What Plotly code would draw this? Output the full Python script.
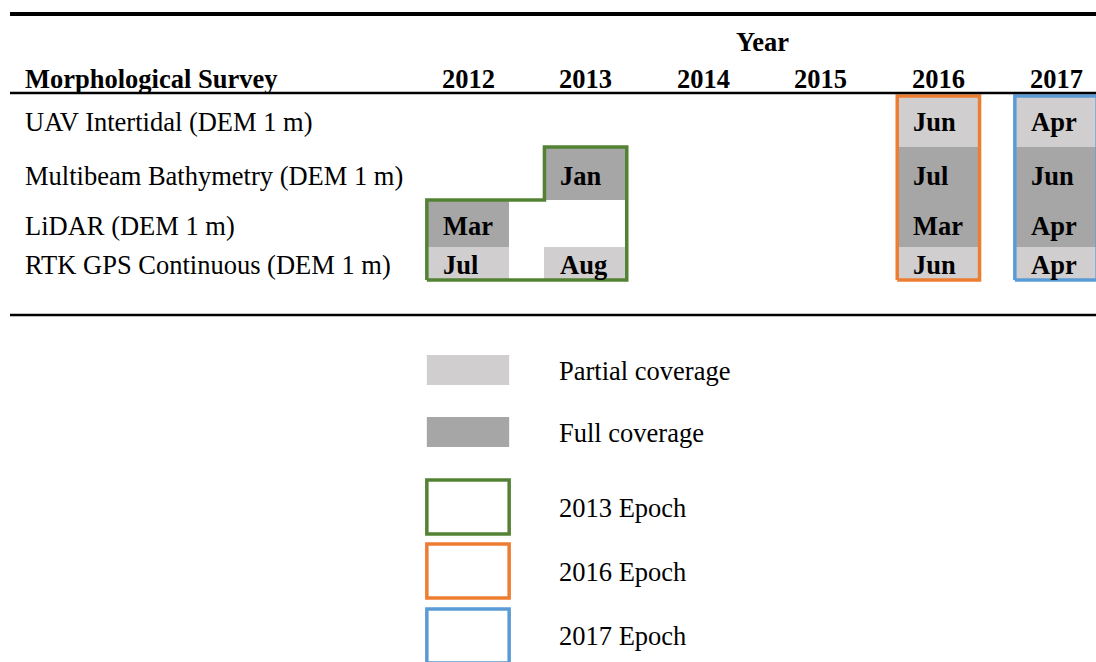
import plotly.graph_objects as go

# ---------------- data ----------------
years = [2012, 2013, 2014, 2015, 2016, 2017]
surveys = [
    "UAV Intertidal (DEM 1 m)",
    "Multibeam Bathymetry (DEM 1 m)",
    "LiDAR (DEM 1 m)",
    "RTK GPS Continuous (DEM 1 m)",
]
# one entry per surveyed cell
cell_year = [2012, 2012, 2013, 2013, 2016, 2016, 2016, 2016, 2017, 2017, 2017, 2017]
cell_survey = [2, 3, 1, 3, 0, 1, 2, 3, 0, 1, 2, 3]
cell_month = ["Mar", "Jul", "Jan", "Aug", "Jun", "Jul", "Mar", "Jun", "Apr", "Jun", "Apr", "Apr"]
cell_coverage = ["Full", "Partial", "Full", "Partial",
                 "Partial", "Full", "Full", "Partial",
                 "Partial", "Full", "Full", "Partial"]
cell_epoch = ["2013", "2013", "2013", "2013",
              "2016", "2016", "2016", "2016",
              "2017", "2017", "2017", "2017"]
epochs = ["2013", "2016", "2017"]
coverage_types = ["Partial", "Full"]

# ---------------- layout / style ----------------
W, H = 1096, 662
PX_PER_YEAR = 117.6
X0 = 2012 - 468 / PX_PER_YEAR
HALF = 0.35                       # half cell width (years)
row_edges = [96, 147, 200, 247, 280]   # pixel rows (y axis in px, reversed)
row_text_y = [121.5, 176, 226, 265]
FONT = "Liberation Serif"
FS = 26.5
cov_colors = {"Partial": "#D0CECE", "Full": "#A6A6A6"}
epoch_colors = {"2013": "#548235", "2016": "#ED7D31", "2017": "#5B9BD5"}
EPOCH_LW = 3.5

fig = go.Figure()

# cells as bars
for cov in coverage_types:
    idx = [i for i, c in enumerate(cell_coverage) if c == cov]
    fig.add_trace(go.Bar(
        x=[cell_year[i] for i in idx],
        base=[row_edges[cell_survey[i]] for i in idx],
        y=[row_edges[cell_survey[i] + 1] - row_edges[cell_survey[i]] for i in idx],
        width=2 * HALF,
        marker=dict(color=cov_colors[cov], line=dict(width=0)),
        hoverinfo="skip", showlegend=False,
    ))

# epoch outlines
for ep in epochs:
    idx = [i for i, e in enumerate(cell_epoch) if e == ep]
    cols = sorted(set(cell_year[i] for i in idx))
    tops = [min(row_edges[cell_survey[i]] for i in idx if cell_year[i] == c) for c in cols]
    bots = [max(row_edges[cell_survey[i] + 1] for i in idx if cell_year[i] == c) for c in cols]
    bottom = max(bots)
    xs = [cols[0] - HALF, cols[0] - HALF]
    ys = [bottom, tops[0]]
    for j in range(len(cols) - 1):
        xs += [cols[j + 1] - HALF, cols[j + 1] - HALF]
        ys += [tops[j], tops[j + 1]]
    xs += [cols[-1] + HALF, cols[-1] + HALF, cols[0] - HALF]
    ys += [tops[-1], bottom, bottom]
    fig.add_trace(go.Scatter(
        x=xs, y=ys, mode="lines",
        line=dict(color=epoch_colors[ep], width=EPOCH_LW),
        hoverinfo="skip", showlegend=False,
    ))

annotations = []
# month labels (left aligned with year header)
for i in range(len(cell_year)):
    annotations.append(dict(
        x=cell_year[i] - 27.5 / PX_PER_YEAR, y=row_text_y[cell_survey[i]],
        xref="x", yref="y", text="<b>%s</b>" % cell_month[i],
        xanchor="left", yanchor="middle", showarrow=False,
        font=dict(family=FONT, size=FS, color="black"),
    ))
# year header
for y in years:
    annotations.append(dict(
        x=y, y=79, xref="x", yref="y", text="<b>%d</b>" % y,
        xanchor="center", yanchor="middle", showarrow=False,
        font=dict(family=FONT, size=FS, color="black"),
    ))
annotations.append(dict(
    x=(years[2] + years[3]) / 2, y=42, xref="x", yref="y", text="<b>Year</b>",
    xanchor="center", yanchor="middle", showarrow=False,
    font=dict(family=FONT, size=FS, color="black"),
))
annotations.append(dict(
    x=23 / W, y=79, xref="paper", yref="y", text="<b>Morphological Survey</b>",
    xanchor="left", yanchor="middle", showarrow=False,
    font=dict(family=FONT, size=FS, color="black"),
))
for r, name in enumerate(surveys):
    annotations.append(dict(
        x=23 / W, y=row_text_y[r], xref="paper", yref="y", text=name,
        xanchor="left", yanchor="middle", showarrow=False,
        font=dict(family=FONT, size=FS, color="black"),
    ))

shapes = []
# horizontal rules
for yy, lw in [(14, 4), (93, 2.5), (315, 2.5)]:
    shapes.append(dict(type="line", xref="paper", yref="y", x0=10 / W, x1=1,
                       y0=yy, y1=yy, line=dict(color="black", width=lw)))

# custom legend
legend_labels = ["Partial coverage", "Full coverage", "2013 Epoch", "2016 Epoch", "2017 Epoch"]
legend_box = [(355, 385), (417, 447), (480, 534), (544, 598), (609, 663)]
legend_text_y = [371, 433, 508, 572, 636]
legend_style = [("fill", cov_colors["Partial"]), ("fill", cov_colors["Full"]),
                ("line", epoch_colors["2013"]), ("line", epoch_colors["2016"]),
                ("line", epoch_colors["2017"])]
for lab, (y0, y1), ty, (kind, col) in zip(legend_labels, legend_box, legend_text_y, legend_style):
    if kind == "fill":
        shapes.append(dict(type="rect", xref="x", yref="y", x0=2012 - HALF, x1=2012 + HALF,
                           y0=y0, y1=y1, fillcolor=col, line=dict(width=0)))
    else:
        shapes.append(dict(type="rect", xref="x", yref="y", x0=2012 - HALF, x1=2012 + HALF,
                           y0=y0, y1=y1, fillcolor="rgba(0,0,0,0)",
                           line=dict(color=col, width=EPOCH_LW)))
    annotations.append(dict(
        x=2012 + (557 - 468) / PX_PER_YEAR, y=ty, xref="x", yref="y", text=lab,
        xanchor="left", yanchor="middle", showarrow=False,
        font=dict(family=FONT, size=FS, color="black"),
    ))

fig.update_layout(
    width=W, height=H,
    margin=dict(l=0, r=0, t=0, b=0),
    paper_bgcolor="white", plot_bgcolor="white",
    barmode="overlay", bargap=0,
    showlegend=False,
    xaxis=dict(range=[X0, X0 + W / PX_PER_YEAR], visible=False, fixedrange=True),
    yaxis=dict(range=[H, 0], visible=False, fixedrange=True),
    annotations=annotations,
    shapes=shapes,
)

fig.write_html(
    "out.html",
    config={"displayModeBar": False},
    post_script="document.body.style.margin='0';document.body.style.overflow='hidden';",
)
